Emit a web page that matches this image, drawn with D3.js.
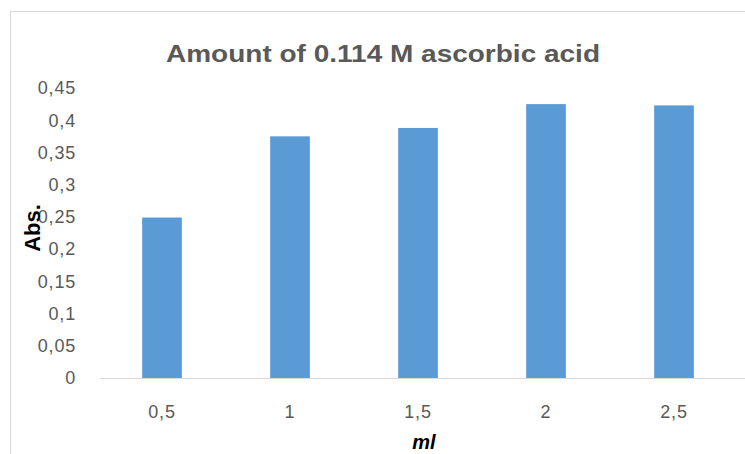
<!DOCTYPE html>
<html>
<head>
<meta charset="utf-8">
<script src="https://cdn.jsdelivr.net/npm/d3@7"></script>
<style>
  body { margin: 0; background: #fff; }
  text { font-family: "Liberation Sans", Arial, sans-serif; }
</style>
</head>
<body>
<script>
var categories = ['0,5', '1', '1,5', '2', '2,5'];
var values = [0.249, 0.375, 0.388, 0.425, 0.423];
var yTicks = [0, 0.05, 0.1, 0.15, 0.2, 0.25, 0.3, 0.35, 0.4, 0.45];

var width = 745;
var height = 454;

var svg = d3.select('body').append('svg')
    .attr('width', width)
    .attr('height', height);

// chart frame, cut off at right and bottom like the original
svg.append('rect')
    .attr('x', 10.5).attr('y', 11.5)
    .attr('width', 800).attr('height', 500)
    .attr('fill', 'none')
    .attr('stroke', '#d9d9d9');

var x = d3.scaleBand()
    .domain(categories)
    .range([98, 738])
    .paddingInner(0.69)
    .paddingOuter(0.345);

var y = d3.scaleLinear()
    .domain([0, 0.45])
    .range([378, 88]);

var fmt = function (d) { return String(+d.toFixed(2)).replace('.', ','); };

// y tick labels
svg.append('g').selectAll('text')
    .data(yTicks)
    .enter().append('text')
    .attr('x', 76)
    .attr('y', function (d) { return y(d); })
    .attr('dy', '0.35em')
    .attr('text-anchor', 'end')
    .attr('fill', '#595959')
    .style('font-size', '18px')
    .style('letter-spacing', '0.8px')
    .text(fmt);

// bars
svg.append('g').selectAll('rect')
    .data(values)
    .enter().append('rect')
    .attr('x', function (d, i) { return x(categories[i]); })
    .attr('y', function (d) { return y(d); })
    .attr('width', x.bandwidth())
    .attr('height', function (d) { return y(0) - y(d); })
    .attr('fill', '#5b9bd5');

// x axis line
svg.append('line')
    .attr('x1', 100).attr('x2', 745)
    .attr('y1', y(0) + 0.5).attr('y2', y(0) + 0.5)
    .attr('stroke', '#d9d9d9')
    .attr('stroke-width', 1);

// x tick labels
svg.append('g').selectAll('text')
    .data(categories)
    .enter().append('text')
    .attr('x', function (d) { return x(d) + x.bandwidth() / 2; })
    .attr('y', 412)
    .attr('dy', '0.35em')
    .attr('text-anchor', 'middle')
    .attr('fill', '#595959')
    .style('font-size', '18px')
    .style('letter-spacing', '0.8px')
    .text(function (d) { return d; });

// title
svg.append('text')
    .attr('x', 383)
    .attr('y', 62)
    .attr('text-anchor', 'middle')
    .attr('fill', '#595959')
    .style('font-size', '24px')
    .style('font-weight', 'bold')
    .attr('textLength', 434)
    .attr('lengthAdjust', 'spacingAndGlyphs')
    .text('Amount of 0.114 M ascorbic acid');

// axis titles
svg.append('text')
    .attr('transform', 'translate(40,228) rotate(-90)')
    .attr('text-anchor', 'middle')
    .attr('fill', '#000')
    .style('font-size', '22px')
    .style('font-weight', 'bold')
    .text('Abs.');

svg.append('text')
    .attr('x', 424)
    .attr('y', 449)
    .attr('text-anchor', 'middle')
    .attr('fill', '#000')
    .style('font-size', '20px')
    .style('font-weight', 'bold')
    .style('font-style', 'italic')
    .text('ml');
</script>
</body>
</html>
